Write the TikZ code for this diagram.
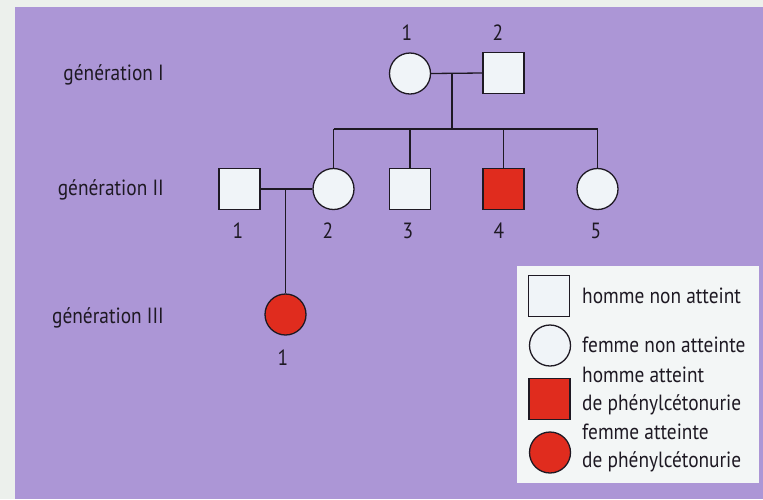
\documentclass[tikz,border=0pt]{standalone}
\usepackage{fontspec}
\setmainfont{PT Sans}[FakeStretch=0.88]
\usetikzlibrary{shapes.geometric}
\definecolor{outerc}{RGB}{236,240,236}
\definecolor{purplebg}{RGB}{172,150,214}
\definecolor{redc}{RGB}{224,44,30}
\definecolor{symw}{RGB}{240,244,248}
\definecolor{legw}{RGB}{243,246,246}
\definecolor{linec}{RGB}{30,25,35}
\tikzset{
  male/.style={draw=linec, line width=1.3pt, fill=symw, minimum size=41pt, inner sep=0pt},
  female/.style={draw=linec, line width=1.3pt, fill=symw, ellipse, minimum width=41pt, minimum height=41pt, inner sep=0pt},
  affected/.style={fill=redc},
  link/.style={draw=linec, line width=1.3pt},
  gen/.style={anchor=east, font=\fontsize{22}{26}\selectfont, text=linec, inner sep=0pt},
  num/.style={font=\fontsize{22}{26}\selectfont, text=linec, inner sep=0pt},
  legtxt/.style={anchor=west, font=\fontsize{22}{28}\selectfont, text=linec, inner sep=0pt, align=left}
}
\begin{document}
\begin{tikzpicture}[x=1pt,y=-1pt]
\useasboundingbox (0,0) rectangle (763,499);
\fill[outerc] (0,0) rectangle (763,499);
\fill[purplebg] (15,7) rectangle (763,499);

% generation labels
\node[gen] (g1) at (164,75) {génération I};
\node[gen] (g2) at (164,190) {génération II};
\node[gen] (g3) at (164,318) {génération III};

% generation I
\node[female] (i1) at (410,73.5) {};
\node[male] (i2) at (503.5,73) {};
\node[num] (n11) at (407,33) {1};
\node[num] (n12) at (498,33) {2};

% generation II
\node[male] (ii1) at (239.5,189) {};
\node[female] (ii2) at (333.5,189) {};
\node[male] (ii3) at (410,189) {};
\node[male, affected] (ii4) at (503.5,189) {};
\node[female] (ii5) at (597.5,189) {};
\node[num] (n21) at (238,231) {1};
\node[num] (n22) at (328,231) {2};
\node[num] (n23) at (408,231) {3};
\node[num] (n24) at (499,231) {4};
\node[num] (n25) at (596,231) {5};

% generation III
\node[female, affected] (iii1) at (285.5,314.5) {};
\node[num] (n31) at (283,358) {1};

% connectors
\draw[link] (i1.east) -- (i2.west);
\coordinate (m1) at (452,73);
\coordinate (s1) at (452,129);
\draw[link] (m1) -- (s1);
\draw[link] (ii2.north |- s1) -- (ii5.north |- s1);
\draw[link] (ii2.north |- s1) -- (ii2.north);
\draw[link] (ii3.north |- s1) -- (ii3.north);
\draw[link] (ii4.north |- s1) -- (ii4.north);
\draw[link] (ii5.north |- s1) -- (ii5.north);
\draw[link] (ii1.east) -- (ii2.west);
\coordinate (m2) at (285.5,189);
\draw[link] (m2) -- (iii1.north);

% legend
\node[fill=legw, minimum width=242pt, minimum height=217pt, inner sep=0pt] (leg) at (638,374.5) {};
\node[male] (l1) at (549,296) {};
\node[female] (l2) at (550,345.5) {};
\node[male, affected] (l3) at (549.5,399) {};
\node[female, affected] (l4) at (550,452.5) {};
\node[legtxt] (t1) at (582,296) {homme non atteint};
\node[legtxt] (t2) at (582,345) {femme non atteinte};
\node[legtxt] (t3) at (582,391) {homme atteint\\de phénylcétonurie};
\node[legtxt] (t4) at (582,448) {femme atteinte\\de phénylcétonurie};
\end{tikzpicture}
\end{document}
